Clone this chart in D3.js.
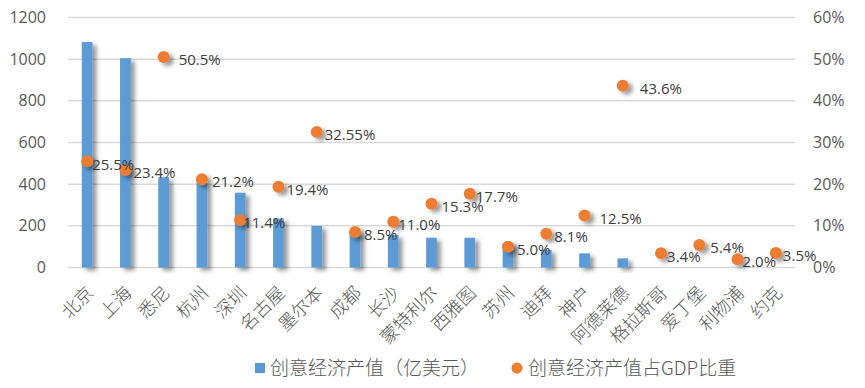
<!DOCTYPE html>
<html>
<head>
<meta charset="utf-8">
<script src="https://cdn.jsdelivr.net/npm/d3@7/dist/d3.min.js"></script>
<style>
  body { margin: 0; background: #fff; }
  svg text { font-family: "Open Sans", "Noto Sans CJK SC", sans-serif; }
  svg text.cjk { font-family: "Noto Sans CJK SC", sans-serif; font-weight: 300; }
</style>
</head>
<body>
<svg id="chart"></svg>
<script>
var width = 865;
var height = 388;

// data
var cities = ["北京", "上海", "悉尼", "杭州", "深圳", "名古屋", "墨尔本", "成都", "长沙", "蒙特利尔",
  "西雅图", "苏州", "迪拜", "神户", "阿德莱德", "格拉斯哥", "爱丁堡", "利物浦", "约克"];
var outputValues = [1082, 1005, 433, 408, 359, 235, 200, 172, 156, 143,
  143, 117, 85, 68, 44, 0, 0, 0, 0];
var gdpShare = [25.5, 23.4, 50.5, 21.2, 11.4, 19.4, 32.55, 8.5, 11.0, 15.3,
  17.7, 5.0, 8.1, 12.5, 43.6, 3.4, 5.4, 2.0, 3.5];
var shareLabels = ["25.5%", "23.4%", "50.5%", "21.2%", "11.4%", "19.4%", "32.55%", "8.5%", "11.0%", "15.3%",
  "17.7%", "5.0%", "8.1%", "12.5%", "43.6%", "3.4%", "5.4%", "2.0%", "3.5%"];
var leftTicks = [0, 200, 400, 600, 800, 1000, 1200];
var rightTicks = [0, 10, 20, 30, 40, 50, 60];
var seriesNames = ["创意经济产值（亿美元）", "创意经济产值占GDP比重"];

// label nudges (px right of the dot), as placed in the original
var labelNudge = [5, 8, 15, 10, 3, 8, 8, 9, 5, 10, 6, 9, 8, 15, 17, 6, 11, 5, 7];

var plot = {left: 68, right: 795, top: 17.5, bottom: 267.5};

var svg = d3.select("#chart").attr("width", width).attr("height", height);

var defs = svg.append("defs");
var shadow = defs.append("filter").attr("id", "shadow")
  .attr("x", "-50%").attr("y", "-50%").attr("width", "250%").attr("height", "200%");
shadow.append("feDropShadow").attr("dx", 4).attr("dy", 3).attr("stdDeviation", 2)
  .attr("flood-color", "#000").attr("flood-opacity", 0.4);

var x = d3.scaleBand().domain(cities).range([plot.left, plot.right]);
var yL = d3.scaleLinear().domain([0, 1200]).range([plot.bottom, plot.top]);
var yR = d3.scaleLinear().domain([0, 60]).range([plot.bottom, plot.top]);

// gridlines
svg.append("g").selectAll("line").data(leftTicks).enter().append("line")
  .attr("x1", plot.left).attr("x2", plot.right)
  .attr("y1", function(d) { return yL(d); })
  .attr("y2", function(d) { return yL(d); })
  .attr("stroke", "#d9d9d9").attr("stroke-width", 1.5);

// left axis
var leftAxis = svg.append("g").attr("transform", "translate(" + (plot.left - 22) + ",0)")
  .call(d3.axisLeft(yL).tickValues(leftTicks).tickSize(0).tickPadding(0).tickFormat(d3.format("d")));
leftAxis.select(".domain").remove();
leftAxis.selectAll("text").attr("fill", "#595959").style("font-size", "16px");

// right axis
var rightAxis = svg.append("g").attr("transform", "translate(" + (plot.right + 18) + ",0)")
  .call(d3.axisRight(yR).tickValues(rightTicks).tickSize(0).tickPadding(0)
    .tickFormat(function(d) { return d + "%"; }));
rightAxis.select(".domain").remove();
rightAxis.selectAll("text").attr("fill", "#595959").style("font-size", "16px");

// bars
var barW = x.bandwidth() * 0.28;
svg.append("g").selectAll("rect").data(outputValues).enter().append("rect")
  .attr("x", function(d, i) { return x(cities[i]) + x.bandwidth() / 2 - barW / 2; })
  .attr("y", function(d) { return yL(d); })
  .attr("width", barW)
  .attr("height", function(d) { return plot.bottom - yL(d); })
  .attr("fill", "#5b9bd5")
  .attr("filter", "url(#shadow)");

// dots
svg.append("g").selectAll("circle").data(gdpShare).enter().append("circle")
  .attr("cx", function(d, i) { return x(cities[i]) + x.bandwidth() / 2; })
  .attr("cy", function(d) { return yR(d); })
  .attr("r", 6)
  .attr("fill", "#ed7d31")
  .attr("filter", "url(#shadow)");

// data labels
svg.append("g").selectAll("text").data(gdpShare).enter().append("text")
  .attr("x", function(d, i) { return x(cities[i]) + x.bandwidth() / 2 + labelNudge[i]; })
  .attr("y", function(d) { return yR(d) + 3; })
  .attr("dy", "0.35em")
  .attr("fill", "#404040")
  .style("font-size", "15px")
  .text(function(d, i) { return shareLabels[i]; });

// category labels
svg.append("g").selectAll("text").data(cities).enter().append("text")
  .attr("class", "cjk")
  .attr("transform", function(d) {
    return "translate(" + (x(d) + x.bandwidth() / 2 + 3) + "," + (plot.bottom + 22) + ") rotate(-45)";
  })
  .attr("text-anchor", "end")
  .attr("dy", "0.35em")
  .attr("fill", "#595959")
  .style("font-size", "18px")
  .text(function(d) { return d; });

// legend
var legend = svg.append("g");
legend.append("rect").attr("x", 255).attr("y", 363).attr("width", 10).attr("height", 10).attr("fill", "#5b9bd5");
legend.append("text").attr("class", "cjk").attr("x", 270).attr("y", 368).attr("dy", "0.35em")
  .attr("fill", "#595959").style("font-size", "19px").text(seriesNames[0]);
legend.append("circle").attr("cx", 517).attr("cy", 368).attr("r", 5.5).attr("fill", "#ed7d31");
legend.append("text").attr("class", "cjk").attr("x", 528).attr("y", 368).attr("dy", "0.35em")
  .attr("fill", "#595959").style("font-size", "19px").text(seriesNames[1]);
</script>
</body>
</html>
